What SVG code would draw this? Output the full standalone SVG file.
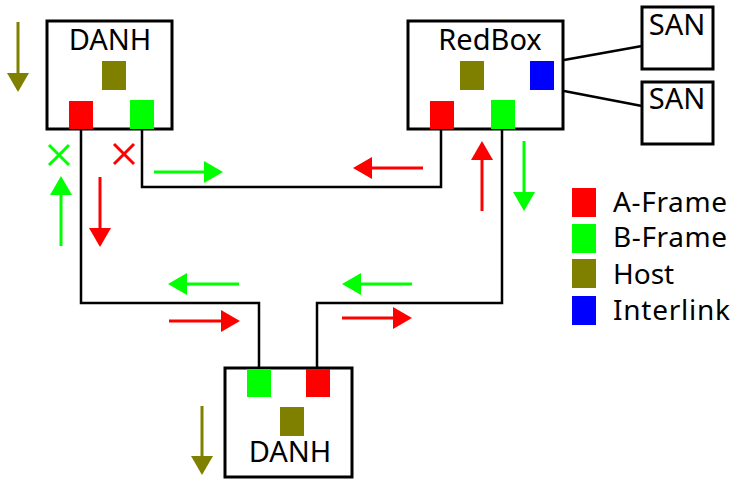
<svg xmlns="http://www.w3.org/2000/svg" width="734" height="479" viewBox="0 0 734 479">
<style>
.box{fill:#fff;stroke:#000;stroke-width:3}
.conn{fill:none;stroke:#000;stroke-width:2.5}
.t{font-family:"Noto Sans","DejaVu Sans",sans-serif;font-size:29px;fill:#000}
.lt{font-family:"Noto Sans","DejaVu Sans",sans-serif;font-size:28px;fill:#000}
.r{fill:#ff0000}.g{fill:#00ff00}.o{fill:#808000}.b{fill:#0000ff}
.ar{stroke:#ff0000;stroke-width:3;fill:none;marker-end:url(#mr)}
.ag{stroke:#00ff00;stroke-width:3;fill:none;marker-end:url(#mg)}
.ao{stroke:#808000;stroke-width:3;fill:none;marker-end:url(#mo)}
</style>
<defs>
<marker id="mr" markerUnits="userSpaceOnUse" markerWidth="20" markerHeight="24" refX="0" refY="11" orient="auto" overflow="visible"><path d="M0,0 L19,11 L0,22 Z" fill="#ff0000"/></marker>
<marker id="mg" markerUnits="userSpaceOnUse" markerWidth="20" markerHeight="24" refX="0" refY="11" orient="auto" overflow="visible"><path d="M0,0 L19,11 L0,22 Z" fill="#00ff00"/></marker>
<marker id="mo" markerUnits="userSpaceOnUse" markerWidth="20" markerHeight="24" refX="0" refY="11" orient="auto" overflow="visible"><path d="M0,0 L19,11 L0,22 Z" fill="#808000"/></marker>
</defs>
<g id="connectors">
<path class="conn" d="M81,130 V303 H259 V367"/>
<path class="conn" d="M142,130 V187 H441 V130"/>
<path class="conn" d="M502,130 V303 H317 V367"/>
<line class="conn" x1="564" y1="60" x2="642" y2="46"/>
<line class="conn" x1="564" y1="91" x2="642" y2="106"/>
</g>
<g id="danh-top">
<rect class="box" x="47" y="21" width="125" height="108"/>
<text class="t" x="110" y="50" text-anchor="middle">DANH</text>
<rect class="o" x="102" y="61" width="24" height="29"/>
<rect class="r" x="69" y="101" width="24" height="28"/>
<rect class="g" x="130" y="100" width="24" height="29"/>
</g>
<g id="redbox">
<rect class="box" x="408" y="21" width="155" height="108"/>
<text class="t" x="490" y="50" text-anchor="middle">RedBox</text>
<rect class="o" x="460" y="61" width="24" height="29"/>
<rect class="b" x="530" y="61" width="24" height="29"/>
<rect class="r" x="430" y="101" width="24" height="28"/>
<rect class="g" x="491" y="100" width="24" height="29"/>
</g>
<g id="san1">
<rect class="box" x="642" y="7" width="71" height="62"/>
<text class="t" x="677" y="35" text-anchor="middle">SAN</text>
</g>
<g id="san2">
<rect class="box" x="642" y="82" width="71" height="62"/>
<text class="t" x="677" y="109" text-anchor="middle">SAN</text>
</g>
<g id="danh-bottom">
<rect class="box" x="225" y="368" width="127" height="109"/>
<rect class="g" x="247" y="369" width="24" height="28"/>
<rect class="r" x="306" y="369" width="24" height="28"/>
<rect class="o" x="280" y="407" width="24" height="29"/>
<text class="t" x="290" y="462" text-anchor="middle">DANH</text>
</g>
<g id="flows">
<line class="ao" x1="18" y1="22" x2="18" y2="73"/>
<line class="ag" x1="61" y1="246" x2="61" y2="195"/>
<line class="ar" x1="100" y1="177" x2="100" y2="228"/>
<line class="ag" x1="154" y1="172" x2="204" y2="172"/>
<line class="ar" x1="423" y1="168" x2="372" y2="168"/>
<line class="ar" x1="482" y1="211" x2="482" y2="160"/>
<line class="ag" x1="524" y1="141" x2="524" y2="192"/>
<line class="ag" x1="239" y1="284" x2="187" y2="284"/>
<line class="ag" x1="412" y1="284" x2="361" y2="284"/>
<line class="ar" x1="169" y1="321" x2="221" y2="321"/>
<line class="ar" x1="342" y1="318" x2="393" y2="318"/>
<line class="ao" x1="202" y1="406" x2="202" y2="456"/>
<path d="M49,145 L69,165 M69,145 L49,165" stroke="#00ff00" stroke-width="3" fill="none"/>
<path d="M114,144 L134,164 M134,144 L114,164" stroke="#ff0000" stroke-width="3" fill="none"/>
</g>
<g id="legend">
<rect class="r" x="572" y="188" width="24" height="29"/>
<text class="lt" x="613" y="212" textLength="114">A-Frame</text>
<rect class="g" x="572" y="224" width="24" height="29"/>
<text class="lt" x="613" y="247" textLength="114">B-Frame</text>
<rect class="o" x="572" y="259" width="24" height="29"/>
<text class="lt" x="613" y="284">Host</text>
<rect class="b" x="572" y="296" width="24" height="29"/>
<text class="lt" x="613" y="320" textLength="117">Interlink</text>
</g>
</svg>
